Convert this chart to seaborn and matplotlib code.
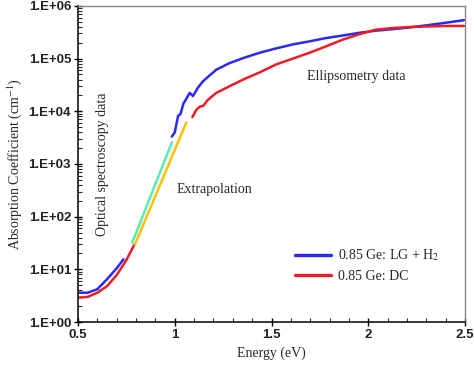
import numpy as np
import pandas as pd
import matplotlib
matplotlib.use("Agg")
import matplotlib.pyplot as plt
import matplotlib.ticker as mticker
import seaborn as sns

# DATA
blue_opt_x = [0.50, 0.55, 0.60, 0.65, 0.70, 0.735]
blue_opt_y = [3.6, 3.6, 4.2, 6.5, 10.5, 15.5]
red_opt_x = [0.50, 0.55, 0.60, 0.65, 0.70, 0.75, 0.79]
red_opt_y = [2.9, 3.0, 3.6, 4.8, 7.8, 15.0, 29.0]

cyan_x = [0.78, 0.985]
cyan_y = [32, 2570]
yellow_x = [0.795, 1.06]
yellow_y = [30, 6170]

blue_ell_x = [0.985, 1.0, 1.017, 1.03, 1.045, 1.057, 1.077, 1.094, 1.12, 1.146,
              1.18, 1.215, 1.28, 1.352, 1.438, 1.52, 1.61, 1.70, 1.78, 1.87,
              1.954, 2.04, 2.125, 2.21, 2.297, 2.40, 2.495]
blue_ell_y = [3310, 3980, 8130, 8910, 14100, 16600, 22400, 19500, 28200, 37200,
              47900, 61700, 81300, 102000, 129000, 155000, 186000, 214000, 245000, 275000,
              309000, 339000, 363000, 389000, 427000, 479000, 537000]
red_ell_x = [1.091, 1.10, 1.112, 1.13, 1.146, 1.172, 1.215, 1.28, 1.352, 1.44,
             1.524, 1.61, 1.696, 1.78, 1.868, 1.95, 2.04, 2.125, 2.21, 2.297,
             2.40, 2.495]
red_ell_y = [7760, 8910, 10700, 12300, 12600, 16600, 22400, 29500, 39800, 55000,
             77600, 100000, 129000, 170000, 229000, 288000, 355000, 380000, 398000, 407000,
             417000, 417000]

BLUE = "#2a2af2"
RED = "#ec1c24"
CYAN = "#5ee8b0"
YELLOW = "#f7c10a"

sns.set_style("ticks")
plt.rcParams["font.family"] = ["Liberation Sans", "DejaVu Sans"]
plt.rcParams["mathtext.fontset"] = "stix"

fig = plt.figure(figsize=(4.74, 3.71), dpi=100)
ax = fig.add_axes([0.1646, 0.132, 0.8164, 0.852])

segments = [
    (blue_opt_x, blue_opt_y, BLUE),
    (red_opt_x, red_opt_y, RED),
    (cyan_x, cyan_y, CYAN),
    (yellow_x, yellow_y, YELLOW),
    (blue_ell_x, blue_ell_y, BLUE),
    (red_ell_x, red_ell_y, RED),
]
for xs, ys, col in segments:
    df = pd.DataFrame({"x": xs, "y": ys})
    sns.lineplot(data=df, x="x", y="y", color=col, lw=1.8, ax=ax,
                 estimator=None, sort=False)

ax.set_yscale("log")
ax.set_xlim(0.5, 2.5)
ax.set_ylim(1, 1e6)

ax.xaxis.set_major_locator(mticker.MultipleLocator(0.5))
ax.xaxis.set_minor_locator(mticker.MultipleLocator(0.1))
ax.xaxis.set_major_formatter(mticker.FuncFormatter(lambda v, p: f"{v:g}"))
ax.yaxis.set_major_locator(mticker.LogLocator(base=10, numticks=10))
ax.yaxis.set_minor_locator(mticker.LogLocator(base=10, subs=np.arange(2, 10), numticks=20))
ax.yaxis.set_minor_formatter(mticker.NullFormatter())
ax.yaxis.set_major_formatter(mticker.FuncFormatter(lambda v, p: f"1.E+{int(round(np.log10(v))):02d}"))

ax.tick_params(which="major", direction="inout", length=6, width=1.0,
               labelsize=9.5, colors="black", pad=2)
ax.tick_params(which="minor", direction="in", length=3, width=0.8)
ax.tick_params(top=False, right=False, which="both")
for lab in ax.get_xticklabels() + ax.get_yticklabels():
    lab.set_fontweight("bold")
    lab.set_color("#222222")

for s in ["left", "bottom"]:
    ax.spines[s].set_color("black")
    ax.spines[s].set_linewidth(1.1)
for s in ["top", "right"]:
    ax.spines[s].set_color("#888888")
    ax.spines[s].set_linewidth(1.0)

serif = ["Liberation Serif", "DejaVu Serif"]
ax.set_xlabel("Energy (eV)", family=serif, fontsize=10, labelpad=4)
ax.set_ylabel("Absorption Coefficient (cm$^{-1}$)", family=serif, fontsize=10, labelpad=3)

ax.text(0.624, 1e3, "Optical spectroscopy data", rotation=90, ha="center", va="center",
        family=serif, fontsize=10)
ax.text(1.206, 10**2.52, "Extrapolation", ha="center", va="center", family=serif, fontsize=10)
ax.text(1.94, 10**4.66, "Ellipsometry data", ha="center", va="center", family=serif, fontsize=10)

handles = [plt.Line2D([], [], color=BLUE, lw=2.4), plt.Line2D([], [], color=RED, lw=2.4)]
ax.legend(handles, ["0.85 Ge: LG + H$_2$", "0.85 Ge: DC"], loc="lower right",
          bbox_to_anchor=(0.965, 0.085), frameon=False, handlelength=2.6, handletextpad=0.5,
          labelspacing=0.45, prop={"family": serif, "size": 10})

fig.savefig("out.png", dpi=100)
